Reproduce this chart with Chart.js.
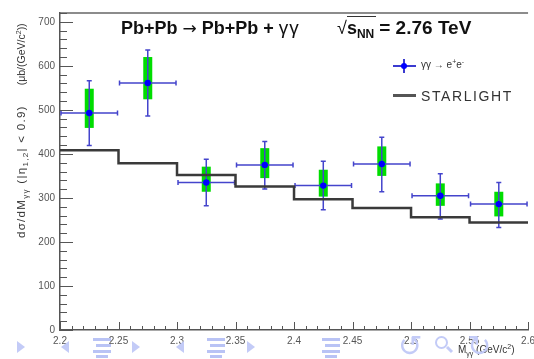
<!DOCTYPE html>
<html>
<head>
<meta charset="utf-8">
<script src="https://cdn.jsdelivr.net/npm/chart.js@4.4.1/dist/chart.umd.min.js"></script>
<style>
  html, body { margin: 0; padding: 0; background: #fff; overflow: hidden; }
  #wrap { position: relative; width: 534px; height: 359px; overflow: hidden; font-family: "Liberation Sans", Arial, sans-serif; }
  #c { position: absolute; left: 0; top: 0; }
  .txt { position: absolute; white-space: nowrap; line-height: 1; color: #111; }
  .title { font-size: 18px; font-weight: bold; color: #111; }
  .thin { font-weight: normal; }
  sub, sup { line-height: 0; }
  .nav { position: absolute; }
  .tri-r { width: 0; height: 0; border-top: 6px solid transparent; border-bottom: 6px solid transparent; border-left: 8px solid #c3cbf7; }
  .tri-l { width: 0; height: 0; border-top: 6px solid transparent; border-bottom: 6px solid transparent; border-right: 8px solid #c3cbf7; }
  .bar { position: absolute; height: 3px; background: #b9c3f5; }
</style>
</head>
<body>
<div id="wrap">
  <canvas id="c" width="540" height="359"></canvas>

  <div class="txt title" style="left:121px; top:18px;">Pb+Pb <span class="thin" style="font-family:'DejaVu Sans'; font-size:17px;">&rarr;</span> Pb+Pb + <span class="thin" style="font-size:19px; letter-spacing:1px;">&gamma;&gamma;</span></div>
  <div class="txt title" style="left:337px; top:18px;"><span class="thin">&radic;</span><span style="border-top:1px solid #333; padding-top:1px; padding-right:2px;">s<sub style="font-size:12px; vertical-align:-4px;">NN</sub></span><span style="font-size:19px; margin-left:3px;">= 2.76 TeV</span></div>

  <div class="txt" style="left:421px; top:60px; font-size:10px; color:#333;">&gamma;&gamma; &rarr; e<sup style="font-size:7px; vertical-align:4px;">+</sup>e<sup style="font-size:7px; vertical-align:4px;">-</sup></div>
  <div class="txt" style="left:421px; top:89px; font-size:14px; color:#333; letter-spacing:1.6px;">STARLIGHT</div>
  <!-- legend symbols -->
  <div style="position:absolute; left:393px; top:65px; width:23px; height:2px; background:#3b3bd0;"></div>
  <div style="position:absolute; left:403px; top:59px; width:2px; height:14px; background:#3b3bd0;"></div>
  <div style="position:absolute; left:401px; top:63px; width:6px; height:6px; border-radius:50%; background:#0000ff;"></div>
  <div style="position:absolute; left:393px; top:94px; width:23px; height:3px; background:#555;"></div>

  <div class="txt" style="left:12px; top:238px; color:#333; transform-origin:0 0; transform:rotate(-90deg);"><span style="font-size:11.5px; letter-spacing:1.3px;">d&sigma;/dM<sub style="font-size:8px;vertical-align:-3px;">&gamma;&gamma;</sub> (|&eta;<sub style="font-size:8px;vertical-align:-3px;">1,2</sub>| &lt; 0.9)</span><span style="display:inline-block; width:20px;"></span><span style="font-size:10.5px;">(&mu;b/(GeV/c<sup style="font-size:7px;vertical-align:4px;">2</sup>))</span></div>
  <div class="txt" style="left:458px; top:345px; font-size:10px; color:#333;">M<sub style="font-size:7px;vertical-align:-3px;">&gamma;&gamma;</sub> (GeV/c<sup style="font-size:7px;vertical-align:4px;">2</sup>)</div>

  <!-- beamer navigation symbols -->
  <div class="nav tri-r" style="left:17px; top:341px;"></div>
  <div class="nav tri-l" style="left:61px; top:341px;"></div>
  <div class="bar" style="left:93px; top:338px; width:18px;"></div>
  <div class="bar" style="left:96px; top:344px; width:15px;"></div>
  <div class="bar" style="left:93px; top:350px; width:18px;"></div>
  <div class="bar" style="left:96px; top:355px; width:12px;"></div>
  <div class="nav tri-r" style="left:132px; top:341px;"></div>
  <div class="nav tri-l" style="left:176px; top:341px;"></div>
  <div class="bar" style="left:207px; top:338px; width:18px;"></div>
  <div class="bar" style="left:210px; top:344px; width:15px;"></div>
  <div class="bar" style="left:207px; top:350px; width:18px;"></div>
  <div class="bar" style="left:210px; top:355px; width:12px;"></div>
  <div class="nav tri-r" style="left:247px; top:341px;"></div>
  <div class="bar" style="left:322px; top:338px; width:18px;"></div>
  <div class="bar" style="left:325px; top:344px; width:15px;"></div>
  <div class="bar" style="left:322px; top:350px; width:18px;"></div>
  <div class="bar" style="left:325px; top:355px; width:12px;"></div>
  <div class="txt" style="left:398px; top:332px; font-size:29px; color:#c3cbf7; font-family:'DejaVu Sans';">&#8634;</div>
  <div style="position:absolute; left:435px; top:336px; width:9px; height:9px; border:2px solid #c3cbf7; border-radius:50%;"></div>
  <div style="position:absolute; left:446px; top:348px; width:7px; height:3px; background:#c3cbf7; transform:rotate(45deg);"></div>
  <div class="txt" style="left:467px; top:332px; font-size:29px; color:#c3cbf7; font-family:'DejaVu Sans';">&#8635;</div>
</div>

<script>
// ---- data ----
const binEdges     = [2.2, 2.25, 2.3, 2.35, 2.4, 2.45, 2.5, 2.55, 2.6];
const binCenters   = [2.225, 2.275, 2.325, 2.375, 2.425, 2.475, 2.525, 2.575];
const crossSection = [493, 561, 335, 375, 328, 377, 305, 286];
const statLow      = [419, 486, 282, 320, 273, 314, 252, 233];
const statHigh     = [566, 636, 388, 428, 383, 438, 355, 335];
const systLow      = [459, 524, 314, 345, 303, 350, 282, 258];
const systHigh     = [548, 620, 371, 413, 364, 417, 333, 314];
const starlight    = [408, 379, 352, 326, 297, 277, 256, 244];
const xTickValues  = [2.2, 2.25, 2.3, 2.35, 2.4, 2.45, 2.5, 2.55, 2.6];
const yTickValues  = [0, 100, 200, 300, 400, 500, 600, 700];

Chart.defaults.font.family = '"Liberation Sans", Arial, sans-serif';

const starlightPoints = binEdges.map((x, i) => ({ x: x, y: starlight[Math.min(i, starlight.length - 1)] }));
const dataPoints = binCenters.map((x, i) => ({ x: x, y: crossSection[i] }));

const errorBarPlugin = {
  id: 'errorBars',
  beforeDatasetDraw(chart, args) {
    if (args.index !== 1) return;
    const xs = chart.scales.x, ys = chart.scales.y, ctx = chart.ctx;
    ctx.save();
    // systematic boxes
    ctx.fillStyle = '#00dd00';
    for (let i = 0; i < binCenters.length; i++) {
      const px = xs.getPixelForValue(binCenters[i]);
      const y1 = ys.getPixelForValue(systHigh[i]);
      const y2 = ys.getPixelForValue(systLow[i]);
      ctx.fillRect(px - 4.5, y1, 9, y2 - y1);
    }
    // statistical error bars and bin width bars
    ctx.strokeStyle = '#4444cc';
    ctx.lineWidth = 1.5;
    for (let i = 0; i < binCenters.length; i++) {
      const px = xs.getPixelForValue(binCenters[i]);
      const py = ys.getPixelForValue(crossSection[i]);
      const yh = ys.getPixelForValue(statHigh[i]);
      const yl = ys.getPixelForValue(statLow[i]);
      const xl = xs.getPixelForValue(binEdges[i]) + 1;
      const xr = xs.getPixelForValue(binEdges[i + 1]) - 1;
      ctx.beginPath();
      ctx.moveTo(px, yh); ctx.lineTo(px, yl);
      ctx.moveTo(px - 2.5, yh); ctx.lineTo(px + 2.5, yh);
      ctx.moveTo(px - 2.5, yl); ctx.lineTo(px + 2.5, yl);
      ctx.moveTo(xl, py); ctx.lineTo(xr, py);
      ctx.moveTo(xl, py - 2.5); ctx.lineTo(xl, py + 2.5);
      ctx.moveTo(xr, py - 2.5); ctx.lineTo(xr, py + 2.5);
      ctx.stroke();
    }
    ctx.restore();
  }
};

const framePlugin = {
  id: 'rootFrame',
  afterDraw(chart) {
    const a = chart.chartArea, xs = chart.scales.x, ys = chart.scales.y, ctx = chart.ctx;
    ctx.save();
    ctx.strokeStyle = '#666';
    ctx.lineWidth = 1.5;
    ctx.beginPath();
    ctx.moveTo(a.left, a.top); ctx.lineTo(a.right, a.top);
    ctx.stroke();
    ctx.lineWidth = 1;
    ctx.strokeStyle = '#555';
    ctx.beginPath();
    // y ticks (inward)
    for (let v = 0; v <= 720; v += 20) {
      const y = Math.round(ys.getPixelForValue(v)) + 0.5;
      const len = (v % 100 === 0) ? 13 : 7;
      ctx.moveTo(a.left, y); ctx.lineTo(a.left + len, y);
    }
    // x ticks (inward)
    for (let k = 0; k <= 40; k++) {
      const v = 2.2 + k * 0.01;
      const x = Math.round(xs.getPixelForValue(v)) + 0.5;
      const len = (k % 5 === 0) ? 8 : 4;
      ctx.moveTo(x, a.bottom); ctx.lineTo(x, a.bottom - len);
    }
    ctx.stroke();
    ctx.restore();
  }
};

new Chart(document.getElementById('c'), {
  type: 'scatter',
  data: {
    datasets: [
      {
        type: 'line',
        label: 'STARLIGHT',
        data: starlightPoints,
        stepped: 'before',
        borderColor: '#3a3a3a',
        borderWidth: 2.5,
        pointRadius: 0,
        fill: false
      },
      {
        type: 'scatter',
        label: 'γγ → e+e-',
        data: dataPoints,
        pointRadius: 3.2,
        pointBackgroundColor: '#0000ff',
        pointBorderColor: '#0000ff',
        pointBorderWidth: 0
      }
    ]
  },
  options: {
    responsive: false,
    devicePixelRatio: 1,
    animation: false,
    layout: { padding: { top: 13, right: 4, left: 0, bottom: 0 } },
    plugins: { legend: { display: false }, tooltip: { enabled: false } },
    scales: {
      x: {
        type: 'linear',
        min: 2.2, max: 2.6,
        afterBuildTicks: s => { s.ticks = xTickValues.map(v => ({ value: v })); },
        afterFit: s => { s.height = 29; },
        grid: { display: false, drawTicks: false },
        border: { display: true, color: '#555', width: 1.5 },
        ticks: {
          padding: 5, color: '#555', font: { size: 10 }, maxRotation: 0, autoSkip: false,
          callback: v => Number(v.toFixed(2)).toString()
        }
      },
      y: {
        min: 0, max: 720,
        afterBuildTicks: s => { s.ticks = yTickValues.map(v => ({ value: v })); },
        afterFit: s => { s.width = 60; },
        grid: { display: false, drawTicks: false },
        border: { display: true, color: '#555', width: 1.5 },
        ticks: { padding: 5, color: '#555', font: { size: 10 } }
      }
    }
  },
  plugins: [errorBarPlugin, framePlugin]
});
</script>
</body>
</html>
